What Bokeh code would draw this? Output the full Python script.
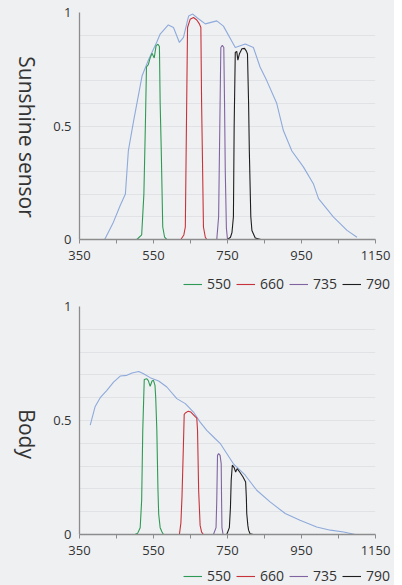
import math
from bokeh.plotting import figure
from bokeh.models import Legend, LegendItem, FixedTicker, Label
from bokeh.layouts import column, row
from bokeh.embed import file_html
from bokeh.resources import INLINE

# ---------------- data ----------------
sun_wl = [350, 418, 440, 460, 474, 482, 496, 519, 536, 559, 568, 590, 604, 620, 631, 645, 656, 667,
          690, 721, 739, 771, 798, 820, 838, 856, 883, 901, 924, 955, 982, 996, 1036, 1073, 1100]
sun_val = [0, 0, 0.07, 0.15, 0.20, 0.39, 0.52, 0.72, 0.79, 0.87, 0.905, 0.945, 0.934, 0.868, 0.89, 0.985,
           0.993, 0.978, 0.95, 0.963, 0.94, 0.846, 0.861, 0.846, 0.76, 0.70, 0.60, 0.48, 0.39, 0.32, 0.246,
           0.18, 0.10, 0.04, 0.01]

s550_wl = [505, 518, 524, 528, 531, 536, 541, 546, 552, 557, 562, 566, 568, 571, 575, 580, 586, 600]
s550_val = [0, 0.02, 0.2, 0.5, 0.76, 0.77, 0.80, 0.82, 0.80, 0.854, 0.86, 0.85, 0.6, 0.39, 0.055, 0.01, 0, 0]

s660_wl = [600, 624, 632, 636, 639, 642, 649, 658, 667, 674, 678, 680, 682, 685, 690, 694, 830]
s660_val = [0, 0, 0.02, 0.055, 0.5, 0.934, 0.97, 0.978, 0.967, 0.95, 0.934, 0.6, 0.39, 0.055, 0.01, 0, 0]

s735_wl = [700, 721, 726, 730, 732, 736, 740, 742, 744, 747, 750, 760]
s735_val = [0, 0, 0.1, 0.6, 0.846, 0.855, 0.846, 0.6, 0.3, 0.05, 0, 0]

s790_wl = [505, 750, 758, 762, 766, 768, 771, 775, 778, 782, 789, 796, 801, 804, 807, 809, 813, 816, 825, 840]
s790_val = [0, 0, 0.01, 0.03, 0.10, 0.5, 0.824, 0.829, 0.79, 0.817, 0.84, 0.842, 0.83, 0.817, 0.6, 0.39, 0.1, 0.04,
            0.007, 0]

body_wl = [379, 392, 406, 424, 442, 460, 478, 492, 510, 523, 541, 564, 586, 613, 636, 658, 676, 694, 717,
           730, 766, 798, 829, 865, 906, 946, 991, 1028, 1064, 1095]
body_val = [0.48, 0.56, 0.60, 0.632, 0.668, 0.695, 0.698, 0.708, 0.715, 0.705, 0.688, 0.673, 0.647, 0.596,
            0.574, 0.537, 0.493, 0.457, 0.42, 0.40, 0.31, 0.26, 0.194, 0.143, 0.092, 0.063, 0.033, 0.019,
            0.011, 0]

b550_wl = [500, 507, 514, 518, 521, 525, 532, 536, 541, 546, 550, 554, 556, 559, 562, 564, 568, 573, 577, 590]
b550_val = [0, 0.005, 0.03, 0.15, 0.457, 0.68, 0.683, 0.675, 0.65, 0.673, 0.676, 0.654, 0.6, 0.457, 0.2, 0.09, 0.03,
            0.011, 0, 0]

b660_wl = [600, 620, 624, 627, 631, 633, 636, 644, 651, 662, 667, 669, 672, 676, 680, 685, 770]
b660_val = [0, 0, 0.05, 0.165, 0.4, 0.527, 0.533, 0.541, 0.537, 0.518, 0.51, 0.457, 0.194, 0.04, 0.01, 0, 0]

b735_wl = [700, 712, 719, 721, 723, 726, 730, 733, 734, 735, 738, 745]
b735_val = [0, 0, 0.03, 0.15, 0.347, 0.355, 0.347, 0.31, 0.15, 0.03, 0, 0]

b790_wl = [497, 748, 755, 758, 760, 763, 768, 772, 776, 783, 792, 799, 801, 802, 805, 807, 811, 820]
b790_val = [0, 0, 0.03, 0.12, 0.238, 0.304, 0.293, 0.274, 0.289, 0.274, 0.252, 0.23, 0.16, 0.092, 0.04, 0.019, 0.003,
            0]

x_ticks = [350, 450, 550, 650, 750, 850, 950, 1050, 1150]
x_labels = {350: "350", 550: "550", 750: "750", 950: "950", 1150: "1150"}
y_ticks = [0, 0.5, 1]
y_labels = {0: "0", 0.5: "0.5", 1: "1"}
series_names = ["550", "660", "735", "790"]

# ---------------- styles ----------------
BG = "#eff0f2"
FONT = "Open Sans"
SUN_COLOR = "#8eaadb"
COLORS = ["#2e9a55", "#c8323a", "#8064a2", "#1e1e1e"]
LABEL_W = 40
TOTAL_W = 394


def blank_fig(width, height, xr, yr):
    p = figure(width=width, height=height, x_range=xr, y_range=yr,
               output_backend="svg", toolbar_location=None,
               x_axis_type=None, y_axis_type=None,
               background_fill_color=BG, border_fill_color=BG,
               min_border=0, min_border_left=0, min_border_right=0,
               min_border_top=0, min_border_bottom=0)
    p.outline_line_color = None
    p.grid.visible = False
    return p


def make_block(height, border_top, title, title_center, ref_wl, ref_val, filters, leg_height):
    # title strip
    lf = blank_fig(LABEL_W, height, (0, LABEL_W), (height, 0))
    lf.add_layout(Label(x=26.5, y=title_center, text=title, angle=-math.pi / 2,
                        text_align="center", text_baseline="middle",
                        text_font=FONT, text_font_size="21px", text_color="#333333"))

    p = figure(width=TOTAL_W - LABEL_W, height=height, x_range=(350, 1150), y_range=(0, 1),
               output_backend="svg", toolbar_location=None,
               background_fill_color=BG, border_fill_color=BG,
               min_border_left=79 - LABEL_W, min_border_right=19,
               min_border_top=border_top, min_border_bottom=27)
    p.outline_line_color = None
    p.xgrid.grid_line_color = None
    p.ygrid.ticker = FixedTicker(ticks=[i / 10 for i in range(11)])
    p.ygrid.grid_line_color = "#e0e2e6"
    p.ygrid.grid_line_width = 1

    p.xaxis.ticker = FixedTicker(ticks=x_ticks)
    ov = {k: "" for k in x_ticks}
    ov.update(x_labels)
    p.xaxis.major_label_overrides = ov
    p.yaxis.ticker = FixedTicker(ticks=y_ticks)
    p.yaxis.major_label_overrides = y_labels
    for ax in (p.xaxis[0], p.yaxis[0]):
        ax.axis_line_color = "#8c8c8c"
        ax.axis_line_width = 1.3
        ax.major_tick_line_color = "#8c8c8c"
        ax.minor_tick_line_color = None
        ax.major_label_text_font = FONT
        ax.major_label_text_font_size = "13px"
        ax.major_label_text_color = "#333333"
    p.xaxis.major_tick_out = 4
    p.xaxis.major_tick_in = 0
    p.xaxis.major_label_standoff = 7
    p.yaxis.major_tick_out = 0
    p.yaxis.major_tick_in = 0
    p.yaxis.major_label_standoff = 8

    p.line(ref_wl, ref_val, line_color=SUN_COLOR, line_width=1.1)
    for (wl, val), col in zip(filters, COLORS):
        p.line(wl, val, line_color=col, line_width=1.1)

    # legend strip (sample lines kept outside the visible range; only the legend shows)
    lg = blank_fig(TOTAL_W, leg_height, (0, 1), (0, 1))
    items = []
    for name, col in zip(series_names, COLORS):
        r = lg.line([5, 6], [5, 6], line_color=col, line_width=1.1)
        items.append(LegendItem(label=name, renderers=[r]))
    leg = Legend(items=items, orientation="horizontal", location=(183, 0),
                 background_fill_alpha=0, border_line_color=None,
                 glyph_width=19, glyph_height=18, label_height=18, label_standoff=5, spacing=5,
                 padding=0, margin=0, label_text_font=FONT, label_text_font_size="14px",
                 label_text_color="#333333")
    lg.add_layout(leg, "center")

    return column(row(lf, p, spacing=0), lg, spacing=0)


top = make_block(266, 12, "Sunshine sensor", 146, sun_wl, sun_val,
                 [(s550_wl, s550_val), (s660_wl, s660_val), (s735_wl, s735_val), (s790_wl, s790_val)], 27)
bottom = make_block(268, 13, "Body", 150, body_wl, body_val,
                    [(b550_wl, b550_val), (b660_wl, b660_val), (b735_wl, b735_val), (b790_wl, b790_val)], 24)

layout = column(top, bottom, spacing=0, styles={"background-color": BG})
open("out.html", "w").write(file_html(layout, INLINE))
